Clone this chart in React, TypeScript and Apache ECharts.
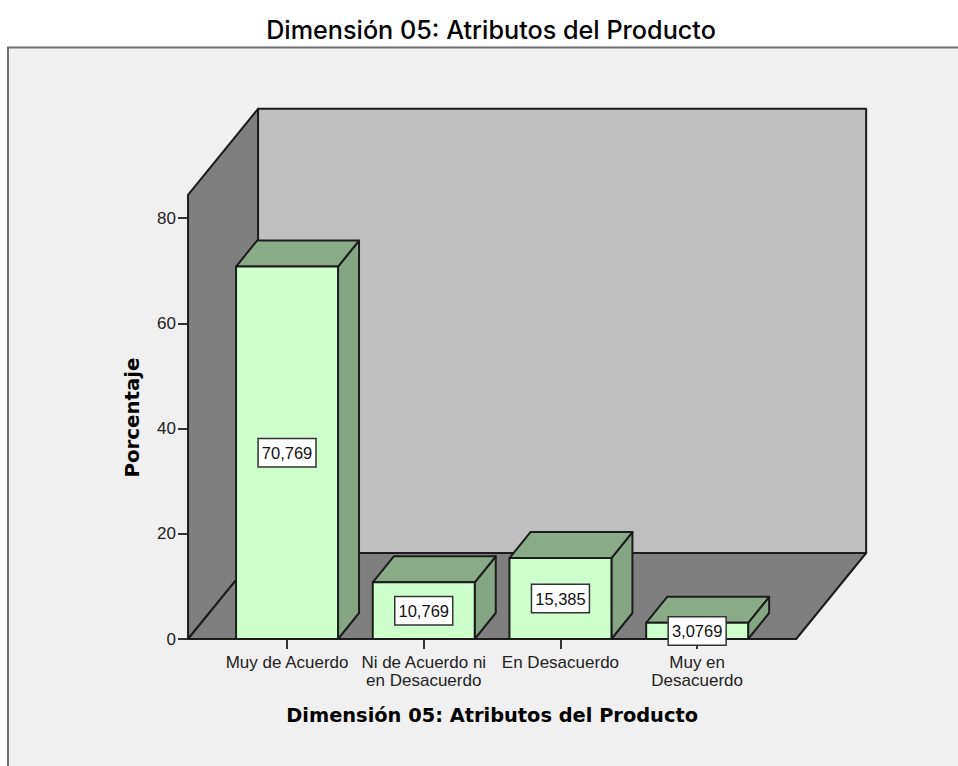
import React, { useEffect, useRef } from "react";
import * as echarts from "echarts";

const TITLE = "Dimensión 05: Atributos del Producto";
const Y_TITLE = "Porcentaje";
const CATEGORIES = ["Muy de Acuerdo", "Ni de Acuerdo ni\nen Desacuerdo", "En Desacuerdo", "Muy en\nDesacuerdo"];
const VALUES = [70.769, 10.769, 15.385, 3.0769];
const VALUE_LABELS = ["70,769", "10,769", "15,385", "3,0769"];
const Y_TICK_STEP = 20;
const Y_MAX = 80;
const WALL_TOP_VALUE = 84.4;

const FONT = "'Liberation Sans', Arial, sans-serif";
const WIDE = "Inter, sans-serif";
const BOLD = "'DejaVu Sans', sans-serif";
const LINE = "#1c1c1c";

export default function App() {
  const ref = useRef<HTMLDivElement>(null);
  useEffect(() => {
    const chart = echarts.init(ref.current!, undefined, { renderer: "svg" });
    const wallDepth = [70, -86];
    const barDepth = [21, -26];
    chart.setOption({
      animation: false,
      backgroundColor: "#ffffff",
      title: {
        text: TITLE,
        left: 486,
        top: 12,
        textAlign: "center",
        textStyle: { fontFamily: WIDE, fontSize: 25.2, fontWeight: 500, color: "#000" },
      },
      graphic: [
        {
          type: "rect",
          z: -10,
          shape: { x: 8, y: 47.5, width: 960, height: 730 },
          style: { fill: "#f0f0f0", stroke: "#6e6e6e", lineWidth: 2 },
        },
      ],
      grid: { left: 218.7, top: 218, width: 546.8, height: 421 },
      xAxis: {
        type: "category",
        data: CATEGORIES,
        axisLine: { show: false },
        axisTick: { show: true, alignWithLabel: true, length: 10, lineStyle: { color: "#333", width: 2 } },
        axisLabel: { fontFamily: FONT, fontSize: 17, color: "#222", margin: 14, lineHeight: 18, interval: 0 },
        name: TITLE,
        nameLocation: "middle",
        nameGap: 67,
        nameTextStyle: { fontFamily: BOLD, fontSize: 19.4, fontWeight: "bold", color: "#000" },
      },
      yAxis: {
        type: "value",
        min: 0,
        max: Y_MAX,
        interval: Y_TICK_STEP,
        offset: 30.7,
        splitLine: { show: false },
        axisLine: { show: false },
        axisTick: { show: true, length: 10, lineStyle: { color: "#333", width: 2 } },
        axisLabel: { fontFamily: FONT, fontSize: 17, color: "#222", margin: 12 },
        name: Y_TITLE,
        nameLocation: "middle",
        nameGap: 46,
        nameTextStyle: { fontFamily: BOLD, fontSize: 19.8, fontWeight: "bold", color: "#000", padding: [0, 0, 0, 22] },
      },
      series: [
        {
          type: "custom",
          z: 1,
          silent: true,
          clip: false,
          data: [[0, 0]],
          renderItem: (_p: any, api: any) => {
            const band = api.size([1, 0])[0];
            const pad = band * 0.7243;
            const x0 = api.coord([0, 0])[0] - pad;
            const x1 = api.coord([CATEGORIES.length - 1, 0])[0] + pad;
            const y0 = api.coord([0, 0])[1];
            const yTop = api.coord([0, WALL_TOP_VALUE])[1];
            const [dx, dy] = wallDepth;
            const st = (fill: string) => ({ fill, stroke: LINE, lineWidth: 2, lineJoin: "round" });
            return {
              type: "group",
              children: [
                { type: "rect", shape: { x: x0 + dx, y: yTop + dy, width: x1 - x0, height: y0 - yTop }, style: st("#bfbfbf") },
                { type: "polygon", shape: { points: [[x0, yTop], [x0 + dx, yTop + dy], [x0 + dx, y0 + dy], [x0, y0]] }, style: st("#7f7f7f") },
                { type: "polygon", shape: { points: [[x0, y0], [x0 + dx, y0 + dy], [x1 + dx, y0 + dy], [x1, y0]] }, style: st("#7f7f7f") },
              ],
            };
          },
        },
        {
          type: "custom",
          z: 2,
          clip: false,
          data: VALUES.map((v, i) => [i, v]),
          encode: { x: 0, y: 1 },
          renderItem: (p: any, api: any) => {
            const idx = p.dataIndex;
            const c = api.coord([api.value(0), api.value(1)]);
            const base = api.coord([api.value(0), 0]);
            const w = api.size([1, 0])[0] * 0.746;
            const l = c[0] - w / 2;
            const r = c[0] + w / 2;
            const [dx, dy] = barDepth;
            const st = (fill: string) => ({ fill, stroke: LINE, lineWidth: 2, lineJoin: "round" });
            return {
              type: "group",
              children: [
                { type: "polygon", shape: { points: [[r, c[1]], [r + dx, c[1] + dy], [r + dx, base[1] + dy], [r, base[1]]] }, style: st("#85a585") },
                { type: "polygon", shape: { points: [[l, c[1]], [l + dx, c[1] + dy], [r + dx, c[1] + dy], [r, c[1]]] }, style: st("#8aaa88") },
                { type: "rect", shape: { x: l, y: c[1], width: w, height: base[1] - c[1] }, style: st("#ccffcc") },
                {
                  type: "text",
                  x: c[0],
                  y: (c[1] + base[1]) / 2,
                  style: {
                    text: VALUE_LABELS[idx],
                    fontFamily: FONT,
                    fontSize: 16.5,
                    fill: "#111",
                    align: "center",
                    verticalAlign: "middle",
                    backgroundColor: "#ffffff",
                    borderColor: "#333",
                    borderWidth: 1.5,
                    padding: [5, 3, 5, 3],
                  },
                },
              ],
            };
          },
        },
      ],
    });
    return () => chart.dispose();
  }, []);
  return <div ref={ref} style={{ position: "fixed", left: 0, top: 0, width: 958, height: 766 }} />;
}
